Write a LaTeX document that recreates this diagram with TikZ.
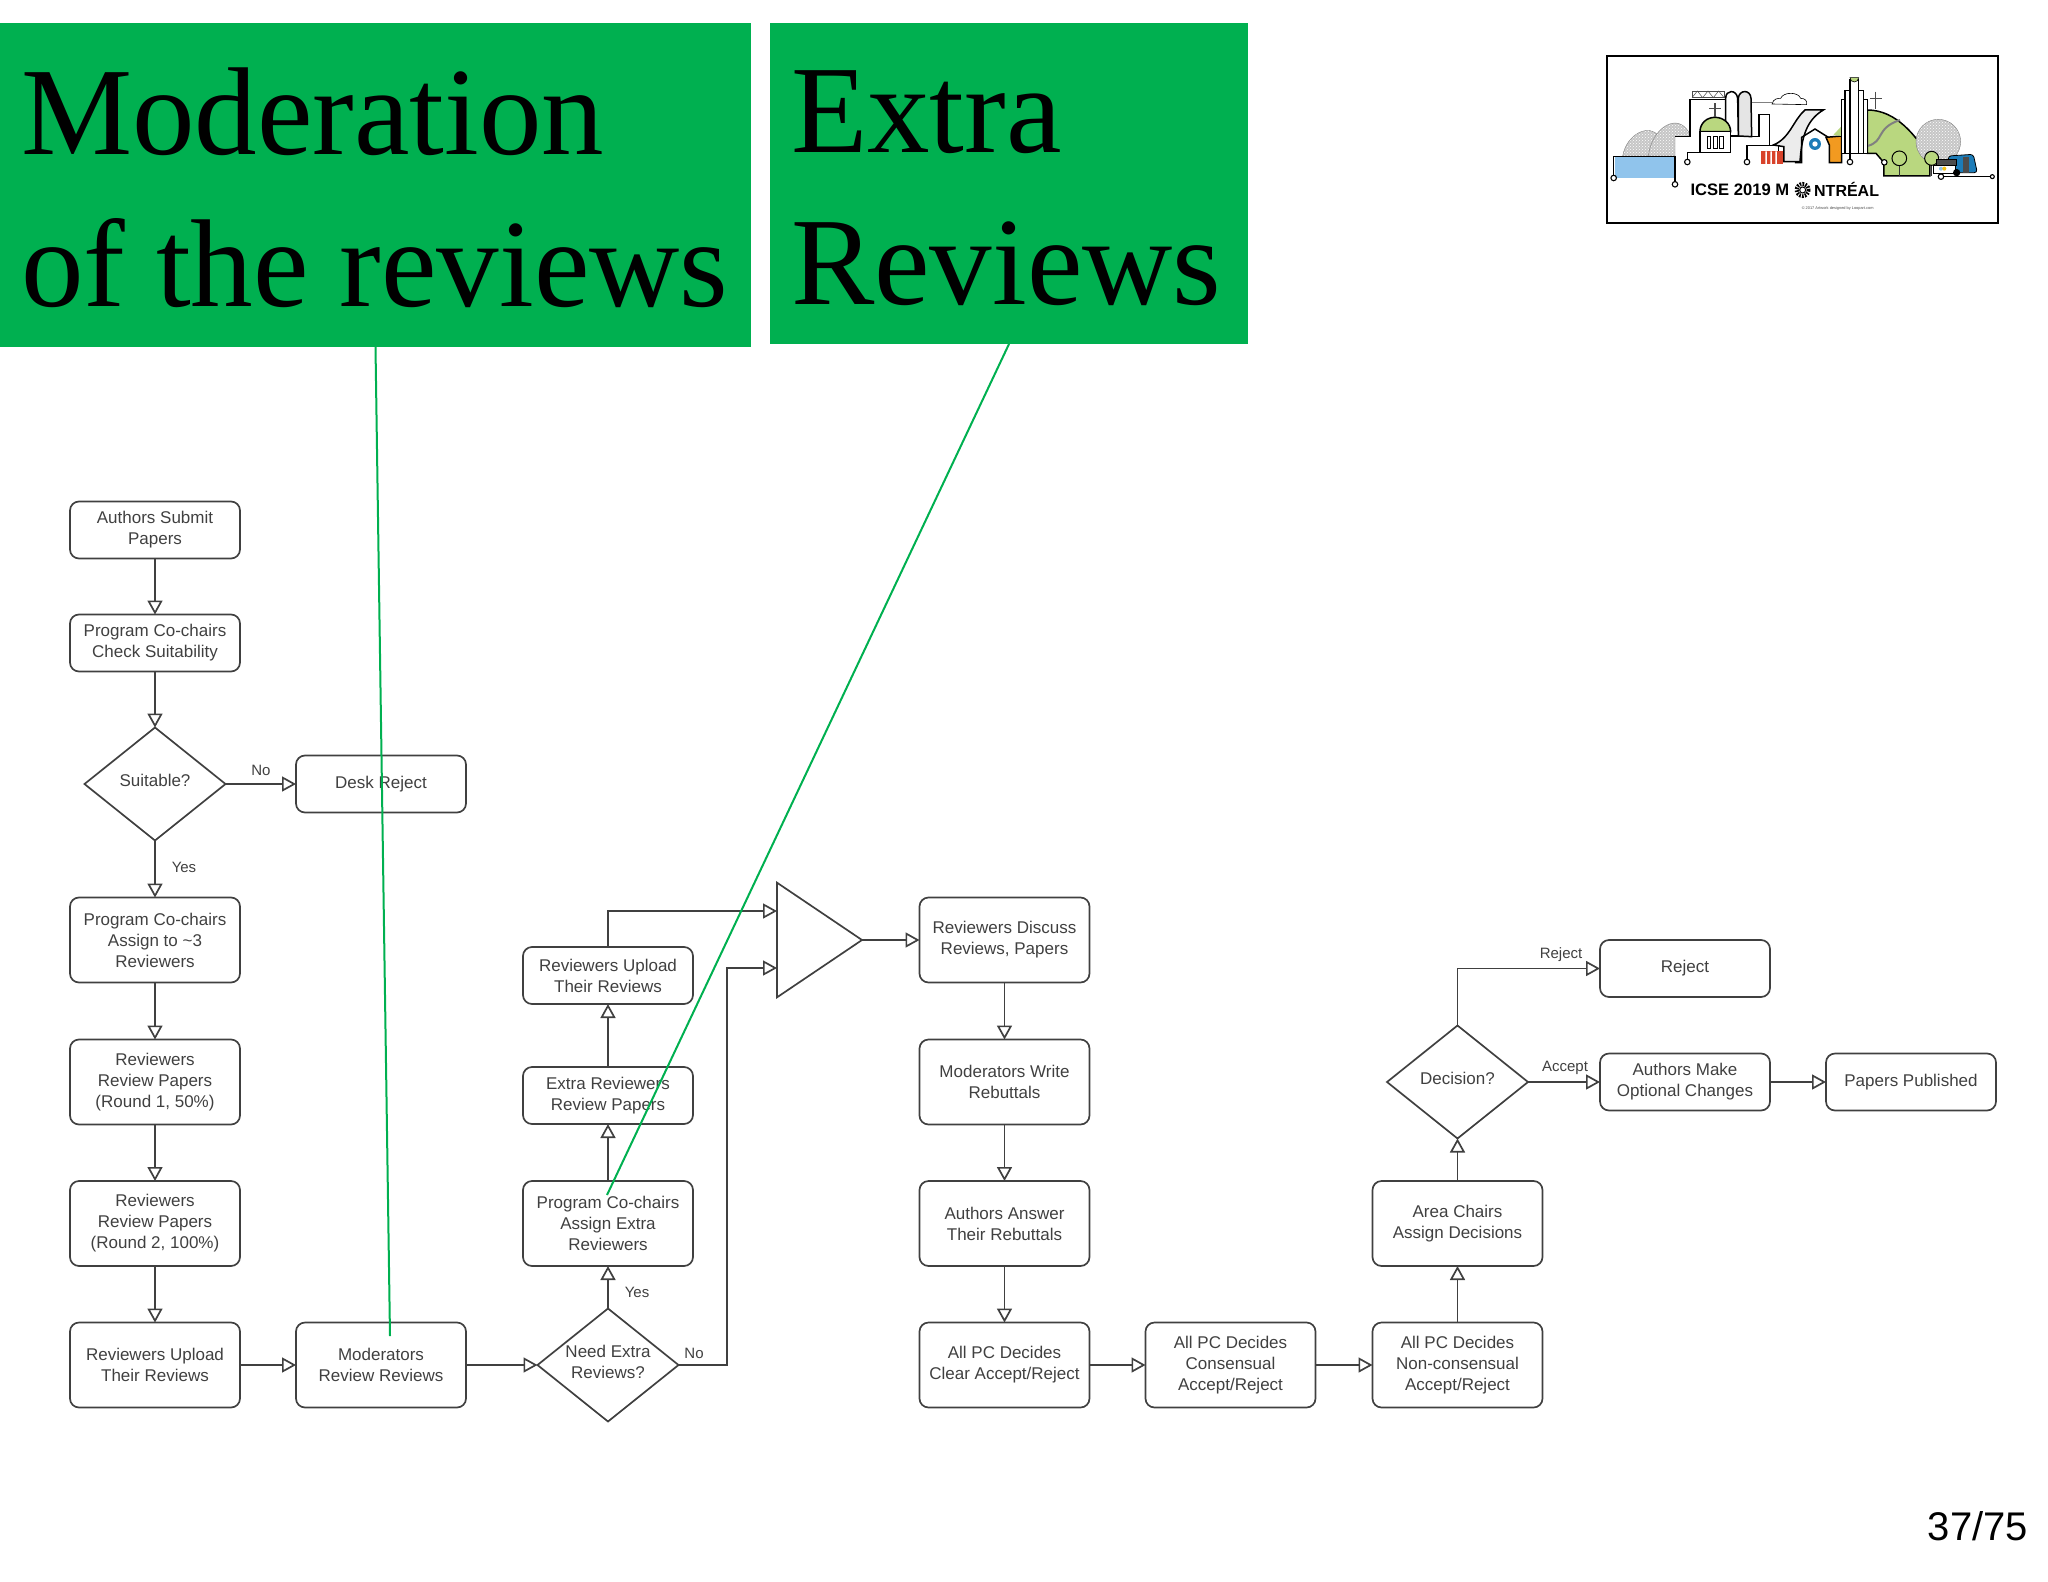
\documentclass[tikz,border=0pt]{standalone}
\usepackage{fontspec}
\setmainfont{Liberation Sans}
\newfontfamily\titlefont{Liberation Serif}
\usetikzlibrary{arrows.meta,shapes.geometric,patterns}
\definecolor{slidegreen}{HTML}{00B050}
\definecolor{flowgray}{HTML}{404040}
\definecolor{logogreen}{HTML}{B9D77F}
\definecolor{logoblue}{HTML}{90C4EC}
\definecolor{logobus}{HTML}{1C7CB8}
\definecolor{logoorange}{HTML}{F29A20}
\definecolor{logored}{HTML}{D8432B}
\tikzset{
  flowbox/.style={draw=flowgray,line width=1.7pt,rounded corners=9pt,minimum width=170pt,minimum height=57pt,inner sep=0pt,outer sep=0pt,align=center,text=flowgray,font=\fontsize{17}{21}\selectfont},
  tallbox/.style={flowbox,minimum height=85pt},
  choice/.style={draw=flowgray,line width=1.7pt,diamond,aspect=1.25,minimum width=141pt,minimum height=113pt,inner sep=0pt,outer sep=0pt,align=center,text=flowgray,text depth=7pt,font=\fontsize{17}{21}\selectfont},
  flow/.style={draw=flowgray,line width=1.7pt,-{Triangle[open,length=14pt,width=15pt,line width=1.7pt]}},
  edgelabel/.style={text=flowgray,inner sep=0pt,font=\fontsize{15}{17}\selectfont},
  titlebox/.style={fill=slidegreen,inner sep=0pt,outer sep=0pt,align=left,text=black,font=\titlefont\fontsize{125}{152}\selectfont,execute at begin node={\leftskip=10pt\spaceskip=31pt\relax\rule{0pt}{92pt}}},
  pointer/.style={draw=slidegreen,line width=2pt},
  logoline/.style={draw=black,line width=1.5pt},
  logodot/.style={circle,draw=black,fill=white,line width=1.1pt,minimum size=5.5pt,inner sep=0pt},
  logodome/.style={draw=gray,line width=0.4pt,preaction={fill=gray!45},pattern=crosshatch dots,pattern color=white}
}
\begin{document}
\begin{tikzpicture}[x=1pt,y=-1pt]
\useasboundingbox (0,0) rectangle (2048,1582);
\node[titlebox,minimum width=751pt,minimum height=324pt,text width=729pt] (modtitle) at (375.5,185) {Moderation\\of the reviews};
\node[titlebox,minimum width=478pt,minimum height=321pt,text width=456pt] (extratitle) at (1009,183.5) {Extra\\Reviews};

\node[flowbox] (submit) at (155,530) {Authors Submit\\Papers};
\node[flowbox] (check) at (155,643) {Program Co-chairs\\Check Suitability};
\node[choice] (suitable) at (155,784) {Suitable?};
\node[flowbox] (desk) at (381,784) {Desk Reject};
\node[tallbox] (assign) at (155,940) {Program Co-chairs\\Assign to \textasciitilde3\\Reviewers};
\node[tallbox] (roundone) at (155,1082) {Reviewers\\Review Papers\\(Round 1, 50\%)};
\node[tallbox] (roundtwo) at (155,1223.5) {Reviewers\\Review Papers\\(Round 2, 100\%)};
\node[tallbox] (upload) at (155,1365) {Reviewers Upload\\Their Reviews};
\node[tallbox] (moderate) at (381,1365) {Moderators\\Review Reviews};
\node[choice] (need) at (608,1365) {Need Extra\\Reviews?};
\node[tallbox] (assignextra) at (608,1223.5) {Program Co-chairs\\Assign Extra\\Reviewers};
\node[flowbox] (extrareview) at (608,1095.5) {Extra Reviewers\\Review Papers};
\node[flowbox] (extraupload) at (608,975.5) {Reviewers Upload\\Their Reviews};
\node[draw=flowgray,line width=1.7pt,isosceles triangle,isosceles triangle apex angle=68,minimum height=85pt,inner sep=0pt,outer sep=0pt,anchor=lower side] (merge) at (777,940) {};
\node[tallbox] (discuss) at (1004.5,940) {Reviewers Discuss\\Reviews, Papers};
\node[tallbox] (rebuttal) at (1004.5,1082) {Moderators Write\\Rebuttals};
\node[tallbox] (answer) at (1004.5,1223.5) {Authors Answer\\Their Rebuttals};
\node[tallbox] (clear) at (1004.5,1365) {All PC Decides\\Clear Accept/Reject};
\node[tallbox] (consensual) at (1230.5,1365) {All PC Decides\\Consensual\\Accept/Reject};
\node[tallbox] (nonconsensual) at (1457.5,1365) {All PC Decides\\Non-consensual\\Accept/Reject};
\node[tallbox] (areachairs) at (1457.5,1223.5) {Area Chairs\\Assign Decisions};
\node[choice] (decision) at (1457.5,1082) {Decision?};
\node[flowbox] (reject) at (1685,968.5) {Reject};
\node[flowbox] (changes) at (1685,1082) {Authors Make\\Optional Changes};
\node[flowbox] (published) at (1911,1082) {Papers Published};

\draw[flow] (submit) -- (check);
\draw[flow] (check) -- (suitable);
\draw[flow] (suitable) -- (desk);
\draw[flow] (suitable) -- (assign);
\draw[flow] (assign) -- (roundone);
\draw[flow] (roundone) -- (roundtwo);
\draw[flow] (roundtwo) -- (upload);
\draw[flow] (upload) -- (moderate);
\draw[flow] (moderate) -- (need);
\draw[flow] (need) -- (assignextra);
\draw[flow] (assignextra) -- (extrareview);
\draw[flow] (extrareview) -- (extraupload);
\draw[flow] (extraupload.north) |- ([yshift=29pt]merge.lower side);
\draw[flow] (need.east) -- (727,1365) |- ([yshift=-28pt]merge.lower side);
\draw[flow] (merge.apex) -- (discuss);
\draw[flow] (discuss) -- (rebuttal);
\draw[flow] (rebuttal) -- (answer);
\draw[flow] (answer) -- (clear);
\draw[flow] (clear) -- (consensual);
\draw[flow] (consensual) -- (nonconsensual);
\draw[flow] (nonconsensual) -- (areachairs);
\draw[flow] (areachairs) -- (decision);
\draw[flow] (decision.north) |- (reject);
\draw[flow] (decision) -- (changes);
\draw[flow] (changes) -- (published);

\node[edgelabel] (suitableno) at (261,770) {No};
\node[edgelabel] (suitableyes) at (184,867) {Yes};
\node[edgelabel] (needyes) at (637,1292) {Yes};
\node[edgelabel] (needno) at (694,1353) {No};
\node[edgelabel] (rejectlabel) at (1561,955) {Reject};
\node[edgelabel] (acceptlabel) at (1565,1068) {Accept};

\coordinate (modend) at (390,1336);
\coordinate (extraend) at (607,1195);
\draw[pointer] (modtitle.south) -- (modend);
\draw[pointer] (extratitle.south) -- (extraend);

\node[inner sep=0pt,font=\fontsize{40}{44}\selectfont,text=black] (pagenum) at (1978,1526) {37/75};

\begin{scope}[shift={(1560,30)},x=0.3333pt,y=-0.3333pt]
\draw[draw=black,line width=1.7pt] (142,77) rectangle (1315,580);
\fill[logoblue] (165,382) rectangle (343,443);
\draw[logodome] (188,378) .. controls (200,310) and (270,280) .. (295,318) -- (265,378) -- cycle;
\draw[logodome] (265,378) .. controls (275,290) and (360,240) .. (392,318) -- (345,320) -- (345,378) -- cycle;
\draw[logoline] (160,443) -- (160,380) -- (345,380) -- (345,462);
\draw[logoline] (345,320) -- (390,320) -- (390,208) -- (495,208);
\draw[draw=black!70,line width=0.8pt] (396,183) rectangle (492,203);
\draw[draw=black!70,line width=0.5pt] (396,203) -- (412,183) -- (428,203) -- (444,183) -- (460,203) -- (476,183) -- (492,203);
\draw[logoline,fill=gray!20] (535,318) -- (535,205) .. controls (537,178) and (572,178) .. (573,205) -- (575,320) -- cycle;
\draw[logoline,fill=white] (497,318) -- (497,205) .. controls (497,178) and (530,178) .. (533,205) -- (535,318) -- cycle;
\draw[draw=gray,line width=1pt] (575,218) -- (636,218);
\draw[draw=black,line width=0.6pt] (636,222) .. controls (640,205) and (655,205) .. (662,205) .. controls (670,185) and (715,185) .. (722,205) .. controls (735,205) and (742,212) .. (740,224) -- cycle;
\draw[logoline] (512,320) -- (597,320) -- (597,253) -- (628,253) -- (628,345);
\draw[logoline,fill=logogreen] (420,305) .. controls (420,280) and (440,262) .. (465,262) .. controls (490,262) and (512,280) .. (512,305) -- cycle;
\draw[logoline,fill=white] (420,305) rectangle (512,368);
\draw[draw=black,line width=0.6pt] (441,320) rectangle (452,355) (460,320) rectangle (471,355) (479,320) rectangle (490,355);
\draw[draw=black!70,line width=1.5pt] (465,220) -- (465,260) (448,236) -- (484,236);
\draw[logoline] (382,388) -- (382,368) -- (512,368);
\node[logodot] (dotwater) at (161,444) {};
\node[logodot] (dotwaterb) at (345,463) {};
\node[logodot] (dotchurch) at (382,396) {};
\draw[logoline] (561,388) -- (561,346) -- (655,346) -- (655,362);
\node[logodot] (dotmid) at (561,396) {};
\fill[logored] (604,364) rectangle (670,402);
\fill[white] (616,364) rectangle (621,402) (631,364) rectangle (636,402) (646,364) rectangle (651,402);
\draw[logoline,fill=gray!15] (640,345) .. controls (690,325) and (700,270) .. (735,240) -- (790,240) .. controls (740,270) and (725,320) .. (720,395) -- (672,395) -- (672,350) -- cycle;
\draw[logoline] (705,398) -- (725,398) -- (725,322) -- (765,297) -- (805,322);
\fill[logobus] (765,342) circle (18);
\fill[white] (765,342) circle (8);
\draw[logoline,fill=logoorange] (798,322) -- (845,318) -- (845,398) -- (808,398) -- (808,345) -- cycle;
\draw[logoline,fill=logogreen] (922,240) .. controls (1010,240) and (1070,320) .. (1110,385) -- (1110,438) -- (972,438) -- (972,398) -- (948,370) -- (922,370) -- cycle;
\draw[draw=gray,line width=2pt] (922,348) .. controls (975,335) and (945,295) .. (1020,270);
\draw[draw=black!70,line width=1.5pt] (947,185) -- (947,238) (930,205) -- (965,205);
\fill[logogreen] (820,315) -- (845,288) -- (845,318) -- cycle;
\draw[logoline,fill=white] (845,208) rectangle (922,370);
\draw[logoline,fill=white] (855,182) rectangle (910,370);
\draw[logoline,fill=white] (870,150) rectangle (895,370);
\draw[draw=black,line width=0.6pt,fill=logogreen] (870,143) arc (180:0:13) -- cycle;
\draw[logoline] (870,370) -- (870,388);
\node[logodot] (dottower) at (870,396) {};
\node[logodot] (dothill) at (973,397) {};
\draw[draw=black!80,line width=1.5pt] (1018,405) -- (1018,438);
\draw[draw=black,line width=1pt,fill=logogreen] (1018,385) circle (22);
\draw[logodome] (1135,335) circle (67);
\draw[draw=black!80,line width=1.5pt] (1115,405) -- (1115,438);
\draw[draw=black,line width=1pt,fill=logogreen] (1115,385) circle (21);
\draw[draw=black,line width=0.8pt,fill=logobus,rounded corners=3pt] (1165,378) -- (1240,373) -- (1252,428) -- (1165,428) -- cycle;
\fill[black!70] (1210,382) rectangle (1226,428);
\draw[draw=black,line width=0.8pt,fill=black!70] (1130,388) rectangle (1190,405);
\draw[draw=black,line width=0.8pt,fill=white] (1120,405) rectangle (1185,430);
\fill[logoblue] (1143,416) circle (6);
\fill[logoorange!60!yellow] (1153,416) circle (6);
\fill[black] (1190,428) circle (11);
\draw[draw=black,line width=0.8pt] (1143,440) -- (1297,440);
\node[logodot] (dottrack) at (1143,440) {};
\node[logodot,minimum size=4pt] (dottrackb) at (1297,440) {};
\node[anchor=west,inner sep=0pt,font=\fontsize{16.6}{20}\selectfont\bfseries] (logoname) at (391,478) {ICSE 2019 M};
\draw[draw=black,line width=4pt,dash pattern=on 1.6pt off 1.2pt] (728,480) circle (18);
\draw[draw=black,line width=1pt] (728,480) circle (9);
\node[anchor=west,inner sep=0pt,font=\fontsize{16}{20}\selectfont\bfseries] (logoplace) at (762,478) {NTRÉAL};
\node[inner sep=0pt,text=black!70,font=\fontsize{3.9}{4}\selectfont] (logocredit) at (833,536) {© 2017 Artwork designed by Loopart.com};
\end{scope}
\end{tikzpicture}
\end{document}
